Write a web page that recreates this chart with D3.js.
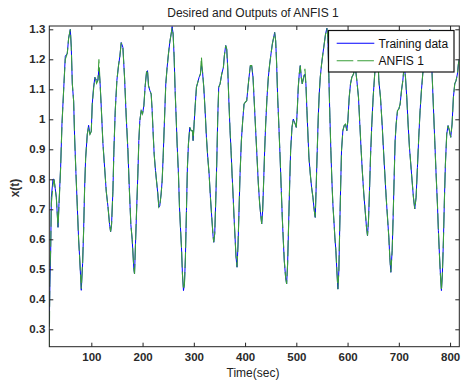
<!DOCTYPE html>
<html><head><meta charset="utf-8">
<script src="https://cdn.jsdelivr.net/npm/d3@7"></script>
<style>body{margin:0;background:#fff}svg{display:block}text{font-family:"Liberation Sans",Arial,sans-serif}</style>
</head><body><svg id="c" width="463" height="388"></svg>
<script>
const time = [
18.0,19.2,20.7,22.0,25.2,27.2,29.5,31.7,35.0,36.9,40.1,42.7,46.6,49.2,53.1,55.7,59.0,60.9,62.9,65.5,
67.4,70.0,72.6,75.2,77.2,80.4,83.0,85.0,86.9,88.9,92.1,94.7,97.3,99.9,101.8,104.4,107.0,110.3,112.9,114.8,
116.8,119.4,122.6,125.9,129.1,132.4,135.6,137.6,139.5,142.1,144.1,146.7,149.9,153.1,155.7,158.3,161.6,164.8,168.1,171.3,173.9,
177.1,179.7,183.0,184.3,186.2,188.1,190.8,192.7,194.7,197.3,199.9,202.5,205.1,207.7,209.6,211.6,214.2,216.8,218.7,220.7,
222.6,225.2,227.2,229.8,231.7,233.6,236.2,238.2,240.1,242.7,245.3,247.9,250.5,253.1,255.7,257.7,259.6,261.6,263.5,265.5,
267.4,270.0,272.0,273.9,275.9,277.8,279.8,281.7,283.6,285.6,287.5,289.5,292.1,294.7,297.3,298.6,300.5,302.5,305.1,307.7,
310.3,312.9,314.8,316.8,319.4,322.0,324.6,327.2,329.8,332.4,335.0,
337.6,338.9,340.8,342.8,344.7,346.7,348.6,351.2,354.5,357.7,359.6,362.2,364.2,366.1,368.1,370.7,372.6,374.6,376.5,378.5,
380.4,382.4,384.3,386.3,388.2,390.2,392.8,395.4,398.0,400.6,403.2,405.1,407.7,410.3,412.9,415.5,418.1,420.7,423.3,425.9,
428.5,430.4,432.4,434.3,436.3,438.2,440.2,442.8,445.4,448.0,450.6,453.2,455.8,457.7,459.7,461.6,463.6,465.5,468.1,470.7,
472.6,474.6,476.5,479.1,481.1,483.0,485.0,487.0,488.9,491.5,494.1,
497.9,499.9,501.8,503.8,505.7,507.7,509.6,511.6,514.2,516.8,518.7,520.7,522.6,524.6,527.2,529.8,532.4,535.0,536.9,538.9,
540.8,542.8,544.7,546.7,549.3,551.8,554.4,557.0,559.6,561.6,563.5,565.5,567.4,569.4,571.3,573.3,575.2,577.2,579.1,581.1,
583.0,584.3,586.3,588.2,590.8,593.4,596.0,598.6,600.6,603.2,605.7,608.3,611.6,614.8,618.1,621.3,623.9,626.5,629.1,631.7,
634.3,636.9,638.9,640.8,642.8,644.7,647.3,649.9,652.5,655.1,
657.8,661.0,664.2,667.4,670.1,672.7,675.3,677.9,680.5,682.4,684.4,687.0,688.9,690.9,692.8,694.8,697.4,700.0,702.6,705.2,
707.8,710.5,713.0,715.5,718.1,720.7,723.3,725.9,728.5,731.1,733.7,736.3,738.9,741.5,744.1,746.7,751.3,756.0,760.5,762.5,
764.9,767.5,770.1,772.7,775.3,777.2,779.2,781.1,783.1,785.0,787.0,788.9,790.9,793.5,796.1,798.7,801.3,803.9,806.5,809.1,
811.7,814.3,816.2,818.0
];
const trainingData = [
0.318,0.45,0.56,0.74,0.80,0.80,0.77,0.74,0.64,0.72,0.84,0.985,1.118,1.21,1.22,1.27,1.30,1.24,1.118,1.06,
0.94,0.82,0.71,0.60,0.54,0.43,0.52,0.63,0.77,0.87,0.95,0.98,0.95,0.96,1.05,1.107,1.14,1.13,1.13,1.17,
1.13,1.04,0.92,0.84,0.76,0.71,0.65,0.625,0.65,0.76,0.90,1.03,1.13,1.18,1.21,1.256,1.24,1.14,1.007,0.90,0.78,
0.65,0.60,0.50,0.485,0.585,0.684,0.818,0.929,0.996,1.029,1.018,1.045,1.112,1.157,1.162,1.112,1.096,1.084,1.029,0.951,
0.884,0.829,0.795,0.751,0.707,0.712,0.751,0.795,0.873,0.996,1.118,1.173,1.218,1.257,1.284,1.309,1.284,1.207,1.096,1.007,
0.918,0.818,0.707,0.640,0.573,0.484,0.429,0.451,0.540,0.696,0.840,0.918,0.973,0.962,0.962,0.929,0.984,1.040,1.107,1.123,
1.140,1.151,1.180,1.162,1.107,1.029,0.940,0.873,0.818,0.740,0.673,
0.61,0.59,0.62,0.729,0.851,1.007,1.107,1.118,1.151,1.173,1.212,1.246,1.234,1.173,1.073,0.962,0.896,0.818,0.751,0.673,
0.607,0.540,0.507,0.584,0.696,0.818,0.929,0.996,1.051,1.057,1.062,1.096,1.140,1.179,1.179,1.140,1.051,0.962,0.873,0.784,
0.718,0.684,0.651,0.696,0.795,0.896,0.984,1.073,1.140,1.184,1.218,1.251,1.273,1.290,1.262,1.184,1.073,0.996,0.884,0.762,
0.673,0.596,0.529,0.473,0.451,0.518,0.651,0.784,0.896,0.973,1.001,
0.984,0.973,1.029,1.107,1.151,1.179,1.140,1.118,1.140,1.150,1.118,1.029,0.951,0.873,0.818,0.773,0.740,0.696,0.673,0.784,
0.896,1.007,1.084,1.140,1.184,1.218,1.251,1.284,1.304,1.273,1.140,1.007,0.896,0.795,0.718,0.662,0.607,0.562,0.495,0.434,
0.495,0.607,0.762,0.896,0.962,0.979,0.984,0.962,0.996,1.073,1.118,1.140,1.151,1.179,1.129,1.073,0.984,0.896,0.818,0.751,
0.696,0.640,0.612,0.662,0.762,0.873,0.984,1.073,1.140,1.200,
1.270,1.129,1.073,0.984,0.896,0.818,0.740,0.673,0.607,0.540,0.490,0.562,0.673,0.807,0.929,0.984,1.029,1.034,1.051,1.096,
1.129,1.180,1.140,1.073,0.984,0.907,0.851,0.795,0.740,0.701,0.740,0.840,0.940,1.029,1.096,1.151,1.220,1.260,1.300,1.250,
1.151,1.040,0.929,0.818,0.718,0.629,0.551,0.484,0.429,0.484,0.596,0.729,0.851,0.951,0.979,0.962,0.940,0.984,1.073,1.118,
1.129,1.151,1.184,1.200
];
const anfisOutput = [
0.242,0.50,0.57,0.72,0.78,0.80,0.77,0.74,0.64,0.71,0.84,0.98,1.12,1.20,1.22,1.27,1.30,1.24,1.12,1.06,
0.94,0.82,0.71,0.60,0.54,0.435,0.52,0.63,0.77,0.87,0.95,0.975,0.95,0.96,1.05,1.10,1.14,1.12,1.13,1.20,
1.13,1.04,0.92,0.84,0.76,0.71,0.65,0.625,0.65,0.76,0.90,1.03,1.13,1.18,1.21,1.255,1.24,1.14,1.01,0.90,0.78,
0.65,0.60,0.50,0.485,0.585,0.684,0.818,0.929,0.996,1.029,1.018,1.045,1.112,1.157,1.165,1.112,1.096,1.084,1.029,0.951,
0.884,0.829,0.795,0.751,0.707,0.712,0.751,0.795,0.873,0.996,1.118,1.173,1.218,1.257,1.284,1.305,1.284,1.207,1.096,1.007,
0.918,0.818,0.707,0.640,0.573,0.484,0.432,0.451,0.540,0.696,0.840,0.918,0.973,0.962,0.962,0.929,0.984,1.040,1.107,1.123,
1.140,1.151,1.207,1.162,1.107,1.029,0.940,0.873,0.818,0.740,0.673,
0.61,0.59,0.62,0.729,0.851,1.007,1.107,1.118,1.151,1.173,1.212,1.246,1.234,1.173,1.073,0.962,0.896,0.818,0.751,0.673,
0.607,0.540,0.507,0.584,0.696,0.818,0.929,0.996,1.051,1.057,1.062,1.096,1.140,1.179,1.179,1.140,1.051,0.962,0.873,0.784,
0.718,0.684,0.651,0.696,0.795,0.896,0.984,1.073,1.140,1.184,1.218,1.251,1.273,1.290,1.262,1.184,1.073,0.996,0.884,0.762,
0.673,0.596,0.529,0.473,0.451,0.518,0.651,0.784,0.896,0.973,1.001,
0.984,0.973,1.029,1.107,1.151,1.179,1.140,1.118,1.140,1.168,1.118,1.029,0.951,0.873,0.818,0.773,0.740,0.696,0.673,0.784,
0.896,1.007,1.084,1.140,1.184,1.218,1.251,1.284,1.304,1.273,1.140,1.007,0.896,0.795,0.718,0.662,0.607,0.562,0.495,0.434,
0.495,0.607,0.762,0.896,0.962,0.979,0.984,0.962,0.996,1.073,1.118,1.140,1.151,1.179,1.129,1.073,0.984,0.896,0.818,0.751,
0.696,0.640,0.612,0.662,0.762,0.873,0.984,1.073,1.140,1.200,
1.270,1.129,1.073,0.984,0.896,0.818,0.740,0.673,0.607,0.540,0.490,0.562,0.673,0.807,0.929,0.984,1.029,1.034,1.051,1.096,
1.129,1.180,1.140,1.073,0.984,0.907,0.851,0.795,0.740,0.701,0.740,0.840,0.940,1.029,1.096,1.151,1.220,1.260,1.300,1.250,
1.151,1.040,0.929,0.818,0.718,0.629,0.551,0.484,0.429,0.484,0.596,0.729,0.851,0.951,0.979,0.962,0.940,0.984,1.073,1.118,
1.129,1.151,1.184,1.200
];
const xTickValues = [100,200,300,400,500,600,700,800];
const yTickValues = [0.3,0.4,0.5,0.6,0.7,0.8,0.9,1.0,1.1,1.2,1.3];
const yTickLabels = ["0.3","0.4","0.5","0.6","0.7","0.8","0.9","1","1.1","1.2","1.3"];
const xDomain = [18, 818];
const yDomain = [0.242, 1.311];
const seriesNames = ["Training data", "ANFIS 1"];
const seriesColors = ["#0000ff", "#3a9e3a"];
const titleText = "Desired and Outputs of ANFIS 1";
const xLabelText = "Time(sec)";
const yLabelText = "x(t)";

const svg = d3.select("#c");
const P = {left: 49.3, right: 459.3, top: 26, bottom: 346.7};
const x = d3.scaleLinear().domain(xDomain).range([P.left, P.right]);
const y = d3.scaleLinear().domain(yDomain).range([P.bottom, P.top]);

svg.append("defs").append("clipPath").attr("id","clip")
  .append("rect").attr("x",P.left).attr("y",P.top-1).attr("width",P.right-P.left).attr("height",P.bottom-P.top+1);

const rowsT = time.map((t,i)=>({t, v: trainingData[i]}));
const rowsA = time.map((t,i)=>({t, v: anfisOutput[i]}));
const line = d3.line().x(d=>x(d.t)).y(d=>y(d.v));

const plot = svg.append("g").attr("clip-path","url(#clip)");
plot.append("path").datum(rowsT).attr("d",line).attr("fill","none")
  .attr("stroke",seriesColors[0]).attr("stroke-width",1);
plot.append("path").datum(rowsA).attr("d",line).attr("fill","none")
  .attr("stroke",seriesColors[1]).attr("stroke-width",1.1).attr("stroke-dasharray","16,4");

function styleAxis(g, labels){
  g.select(".domain").remove();
  g.selectAll(".tick line").attr("stroke","#222");
  g.selectAll(".tick text").attr("fill","#2a2a2a").attr("font-size","11.5px")
    .attr("font-weight","bold").attr("font-family","'Liberation Sans',Arial,sans-serif");
  if(!labels) g.selectAll(".tick text").remove();
}
svg.append("g").attr("transform",`translate(0,${P.bottom})`)
  .call(d3.axisBottom(x).tickValues(xTickValues).tickSize(-4).tickPadding(6).tickFormat(d3.format("d")))
  .call(g=>styleAxis(g,true));
svg.append("g").attr("transform",`translate(0,${P.top})`)
  .call(d3.axisTop(x).tickValues(xTickValues).tickSize(-4))
  .call(g=>styleAxis(g,false));
svg.append("g").attr("transform",`translate(${P.left},0)`)
  .call(d3.axisLeft(y).tickValues(yTickValues).tickSize(-4).tickPadding(4).tickFormat((d,i)=>yTickLabels[i]))
  .call(g=>styleAxis(g,true));
svg.append("g").attr("transform",`translate(${P.right},0)`)
  .call(d3.axisRight(y).tickValues(yTickValues).tickSize(-4))
  .call(g=>styleAxis(g,false));

svg.append("rect").attr("x",P.left).attr("y",P.top).attr("width",P.right-P.left).attr("height",P.bottom-P.top)
  .attr("fill","none").attr("stroke","#222").attr("stroke-width",1);

svg.append("text").attr("x",253).attr("y",16.5).attr("text-anchor","middle")
  .attr("font-size","12px").attr("fill","#222").text(titleText);
svg.append("text").attr("x",253).attr("y",377).attr("text-anchor","middle")
  .attr("font-size","12px").attr("fill","#222").text(xLabelText);
svg.append("text").attr("transform","translate(18.5,188) rotate(-90)").attr("text-anchor","middle")
  .attr("font-size","12px").attr("font-weight","bold").attr("fill","#333").text(yLabelText);

const lg = svg.append("g");
lg.append("rect").attr("x",328.5).attr("y",30.5).attr("width",125.5).attr("height",41.5)
  .attr("fill","#fff").attr("stroke","#111").attr("stroke-width",1.2);
seriesNames.forEach((name,i)=>{
  const yy = 43.3 + i*17.4;
  lg.append("line").attr("x1",336.7).attr("x2",374.3).attr("y1",yy).attr("y2",yy)
    .attr("stroke",seriesColors[i]).attr("stroke-width",1.1)
    .attr("stroke-dasharray", i===1 ? "16.6,4" : null);
  lg.append("text").attr("x",378.5).attr("y",yy+4.3).attr("font-size","12px").attr("fill","#111").text(name);
});
</script>
</body></html>
